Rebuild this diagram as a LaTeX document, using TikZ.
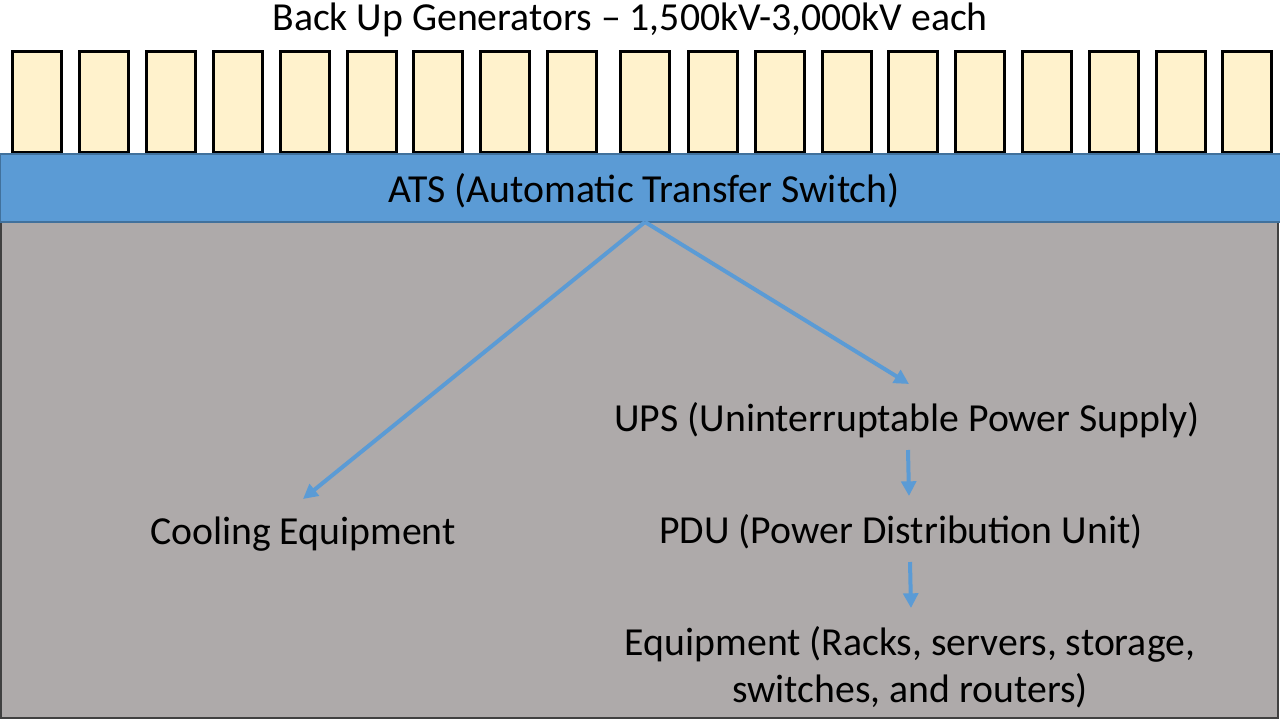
\documentclass[tikz,border=0pt]{standalone}
\usepackage{fontspec}
\setmainfont{Carlito}
\usetikzlibrary{arrows.meta}
\definecolor{genfill}{HTML}{FFF2CC}
\definecolor{atsblue}{HTML}{5B9BD5}
\definecolor{atsborder}{HTML}{41719C}
\definecolor{roomgray}{HTML}{AEAAAA}
\definecolor{roomborder}{HTML}{404040}
\tikzset{
  gen/.style={draw=black, line width=2.25pt, fill=genfill},
  flow/.style={draw=atsblue, line width=3pt, -{Triangle[length=11pt,width=11pt]}},
  lbl/.style={font=\fontsize{29.8}{35.2}\selectfont, text=black, inner sep=0pt, align=center}
}
\begin{document}
\begin{tikzpicture}[x=0.75pt,y=-0.75pt]
\useasboundingbox (0,0) rectangle (1280,720);
\fill[white] (0,0) rectangle (1280,720);
% room
\draw[fill=roomgray, draw=roomborder, line width=1.5pt] (1,222) rectangle (1278,718);
% generators
\foreach \x [count=\i] in {12,79,146,213,280,347,413,480,547,620,688,755,822,888,955,1022,1089,1156,1222}
  \draw[gen] (\x,52) rectangle ++(49,101);
% ATS bar
\draw[fill=atsblue, draw=atsborder, line width=1pt] (0,154) rectangle (1282,222);
% texts
\node[lbl] (title) at (630,20) {Back Up Generators – 1,500kV-3,000kV each};
\node[lbl] (ats) at (644,191) {ATS (Automatic Transfer Switch)};
\node[lbl] (ups) at (907,420) {UPS (Uninterruptable Power Supply)};
\node[lbl] (cool) at (303,534) {Cooling Equipment};
\node[lbl] (pdu) at (901,532) {PDU (Power Distribution Unit)};
\node[lbl] (equip) at (910,667) {Equipment (Racks, servers, storage,\\switches, and routers)};
% connector anchors
\coordinate (atsb) at (645,222);
\coordinate (coolin) at (303,499);
\coordinate (upsin) at (909,384);
\coordinate (upsout) at (908,450);
\coordinate (pduin) at (909,496);
\coordinate (pduout) at (910,562);
\coordinate (equipin) at (911,608);
\draw[flow] (atsb) -- (coolin);
\draw[flow] (atsb) -- (upsin);
\draw[flow] (upsout) -- (pduin);
\draw[flow] (pduout) -- (equipin);
\end{tikzpicture}
\end{document}
